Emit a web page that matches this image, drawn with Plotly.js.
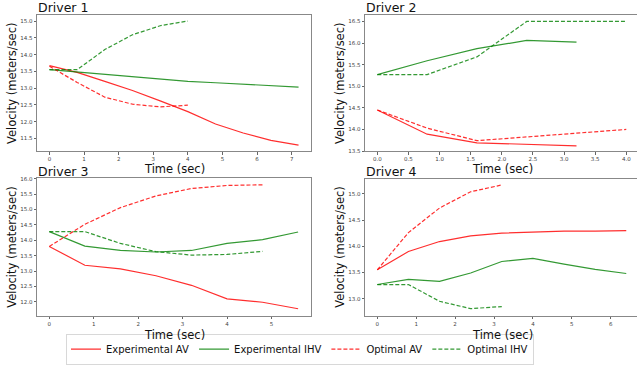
<!DOCTYPE html>
<html>
<head>
<meta charset="utf-8">
<script src="https://cdn.plot.ly/plotly-3.0.1.min.js"></script>
<style>html,body{margin:0;padding:0;background:#fff}#chart{width:637px;height:365px}</style>
</head>
<body>
<div id="chart"></div>
<script>
// ---- Data ----
const seriesNames = ["Experimental AV", "Experimental IHV", "Optimal AV", "Optimal IHV"];
const driverTitles = ["Driver 1", "Driver 2", "Driver 3", "Driver 4"];

// Driver 1
const d1_time_exp = [0, 0.8, 1.6, 2.4, 3.2, 4.0, 4.8, 5.6, 6.4, 7.2];
const d1_exp_av  = [13.67, 13.47, 13.20, 12.93, 12.62, 12.30, 11.93, 11.66, 11.44, 11.30];
const d1_exp_ihv = [13.55, 13.48, 13.40, 13.32, 13.25, 13.20, 13.16, 13.12, 13.07, 13.03];
const d1_time_opt = [0, 0.8, 1.6, 2.4, 3.2, 4.0];
const d1_opt_av  = [13.65, 13.17, 12.73, 12.52, 12.44, 12.49];
const d1_opt_ihv = [13.55, 13.55, 14.15, 14.59, 14.86, 15.00];

// Driver 2
const d2_time_exp = [0, 0.8, 1.6, 2.4, 3.2];
const d2_exp_av  = [14.45, 13.89, 13.69, 13.66, 13.62];
const d2_exp_ihv = [15.27, 15.59, 15.87, 16.06, 16.02];
const d2_time_opt = [0, 0.8, 1.6, 2.4, 3.2, 4.0];
const d2_opt_av  = [14.45, 14.03, 13.74, 13.83, 13.92, 14.00];
const d2_opt_ihv = [15.27, 15.27, 15.68, 16.50, 16.50, 16.50];

// Driver 3
const d3_time_exp = [0, 0.8, 1.6, 2.4, 3.2, 4.0, 4.8, 5.6];
const d3_exp_av  = [13.80, 13.19, 13.07, 12.85, 12.54, 12.10, 11.99, 11.78];
const d3_exp_ihv = [14.28, 13.81, 13.67, 13.62, 13.67, 13.90, 14.02, 14.27];
const d3_time_opt = [0, 0.8, 1.6, 2.4, 3.2, 4.0, 4.8];
const d3_opt_av  = [13.80, 14.52, 15.06, 15.44, 15.68, 15.78, 15.80];
const d3_opt_ihv = [14.28, 14.28, 13.90, 13.63, 13.52, 13.54, 13.64];

// Driver 4
const d4_time_exp = [0, 0.8, 1.6, 2.4, 3.2, 4.0, 4.8, 5.6, 6.4];
const d4_exp_av  = [13.55, 13.90, 14.09, 14.20, 14.25, 14.27, 14.29, 14.29, 14.30];
const d4_exp_ihv = [13.27, 13.37, 13.33, 13.49, 13.71, 13.77, 13.66, 13.56, 13.48];
const d4_time_opt = [0, 0.8, 1.6, 2.4, 3.2];
const d4_opt_av  = [13.55, 14.26, 14.73, 15.04, 15.17];
const d4_opt_ihv = [13.27, 13.27, 12.95, 12.81, 12.85];

// ---- Styles ----
const RED = "rgba(255,0,0,0.82)";
const GREEN = "rgba(0,128,0,0.8)";
const FONT = "DejaVu Sans";
const DASH = "4px,2px";

const drivers = [
  {te: d1_time_exp, eav: d1_exp_av, eihv: d1_exp_ihv, to: d1_time_opt, oav: d1_opt_av, oihv: d1_opt_ihv},
  {te: d2_time_exp, eav: d2_exp_av, eihv: d2_exp_ihv, to: d2_time_opt, oav: d2_opt_av, oihv: d2_opt_ihv},
  {te: d3_time_exp, eav: d3_exp_av, eihv: d3_exp_ihv, to: d3_time_opt, oav: d3_opt_av, oihv: d3_opt_ihv},
  {te: d4_time_exp, eav: d4_exp_av, eihv: d4_exp_ihv, to: d4_time_opt, oav: d4_opt_av, oihv: d4_opt_ihv}
];

const traces = [];
drivers.forEach((d, i) => {
  const xa = i === 0 ? "x" : "x" + (i + 1);
  const ya = i === 0 ? "y" : "y" + (i + 1);
  const specs = [
    [d.te, d.eav, RED, "solid", seriesNames[0]],
    [d.te, d.eihv, GREEN, "solid", seriesNames[1]],
    [d.to, d.oav, RED, DASH, seriesNames[2]],
    [d.to, d.oihv, GREEN, DASH, seriesNames[3]]
  ];
  specs.forEach(s => {
    traces.push({
      type: "scatter", mode: "lines", x: s[0], y: s[1], xaxis: xa, yaxis: ya,
      name: s[4], legendgroup: s[4], showlegend: i === 0,
      line: {color: s[2], width: 1.2, dash: s[3]},
      hoverinfo: "skip"
    });
  });
});

const W = 637, H = 365;
function axBase(extra) {
  return Object.assign({
    showline: true, linecolor: "#888", linewidth: 1, mirror: true,
    ticks: "outside", ticklen: 2.5, tickwidth: 1, tickcolor: "#666",
    tickfont: {family: FONT, size: 5.5, color: "#444"},
    showgrid: false, zeroline: false, fixedrange: true
  }, extra);
}
const xL = [37 / W, 311 / W], xR = [365 / W, 1];
const yT = [1 - 153 / H, 1 - 15 / H], yB3 = [1 - 319 / H, 1 - 180 / H], yB4 = [1 - 319 / H, 1 - 181 / H];

const layout = {
  width: W, height: H,
  margin: {l: 0, r: 0, t: 0, b: 0},
  paper_bgcolor: "#fff", plot_bgcolor: "#fff",
  font: {family: FONT},
  showlegend: true,
  legend: {
    orientation: "h", x: 300 / W, xanchor: "center", y: 1 - 353 / H, yanchor: "middle",
    font: {family: FONT, size: 10, color: "#111"},
    bordercolor: "#d8d8d8", borderwidth: 1, bgcolor: "#fff",
    tracegroupgap: 0
  },
  xaxis: axBase({domain: xL, range: [-0.36, 7.56], dtick: 1, tickformat: "d", anchor: "y"}),
  yaxis: axBase({domain: yT, range: [11.115, 15.185], dtick: 0.5, tickformat: ".1f", anchor: "x"}),
  xaxis2: axBase({domain: xR, range: [-0.198, 4.172], dtick: 0.5, tickformat: ".1f", anchor: "y2"}),
  yaxis2: axBase({domain: yT, range: [13.493, 16.653], dtick: 0.5, tickformat: ".1f", anchor: "x2", mirror: false}),
  xaxis3: axBase({domain: xL, range: [-0.277, 5.89], dtick: 1, tickformat: "d", anchor: "y3"}),
  yaxis3: axBase({domain: yB3, range: [11.56, 16.02], dtick: 0.5, tickformat: ".1f", anchor: "x3"}),
  xaxis4: axBase({domain: xR, range: [-0.316, 6.676], dtick: 1, tickformat: "d", anchor: "y4"}),
  yaxis4: axBase({domain: yB4, range: [12.679, 15.283], dtick: 0.5, tickformat: ".1f", anchor: "x4", mirror: false}),
  annotations: []
};

const titleFont = {family: FONT, size: 11.5, color: "#111"};
const panelLeft = [37, 365, 37, 365];
const titleY = [8, 8, 173, 173];
driverTitles.forEach((t, i) => {
  layout.annotations.push({text: t, xref: "paper", yref: "paper", x: panelLeft[i] / W, y: 1 - titleY[i] / H,
    xanchor: "left", yanchor: "middle", showarrow: false, borderpad: 0,
    font: {family: FONT, size: 12.5, color: "#111"}});
});
const xTitleX = [174, 502, 174, 502];
const xTitleY = [170.5, 170.5, 339, 339];
const yTitleX = [12, 340, 12, 340];
const yTitleY = [84, 84, 249.5, 249.5];
for (let i = 0; i < 4; i++) {
  layout.annotations.push({text: "Time (sec)", xref: "paper", yref: "paper", x: xTitleX[i] / W, y: 1 - xTitleY[i] / H,
    xanchor: "center", yanchor: "middle", showarrow: false, borderpad: 0, font: titleFont});
  layout.annotations.push({text: "Velocity (meters/sec)", xref: "paper", yref: "paper", x: yTitleX[i] / W, y: 1 - yTitleY[i] / H,
    xanchor: "center", yanchor: "middle", showarrow: false, borderpad: 0, textangle: -90, font: titleFont});
}

Plotly.newPlot("chart", traces, layout, {staticPlot: true, displayModeBar: false});
</script>
</body>
</html>
